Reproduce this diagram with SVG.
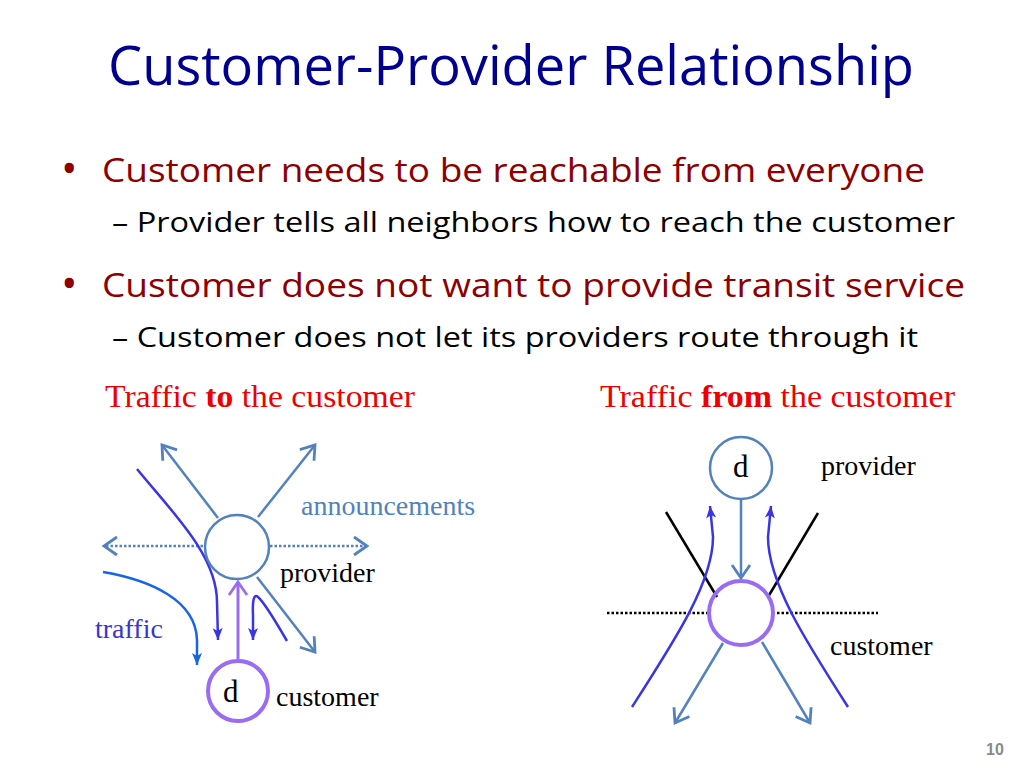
<svg xmlns="http://www.w3.org/2000/svg" width="1024" height="768" viewBox="0 0 1024 768">
<style>
.title{font-family:"Open Sans","Liberation Sans",sans-serif;font-size:54px;fill:#000090}
.b1{font-family:"Open Sans","Liberation Sans",sans-serif;font-size:33px;fill:#8e0000}
.bul{font-family:"Open Sans","Liberation Sans",sans-serif;font-size:44px;fill:#8e0000}
.b2{font-family:"Open Sans","Liberation Sans",sans-serif;font-size:27px;fill:#000}
.hdr{font-family:"Liberation Serif","Times New Roman",serif;font-size:32px;fill:#ee0000}
.lbl{font-family:"Liberation Serif","Times New Roman",serif;font-size:28px;fill:#000}
.dl{font-family:"Liberation Serif","Times New Roman",serif;font-size:31px;fill:#000}
.sb{fill:none;stroke:#5282bc;stroke-width:2.5}
.pu{fill:none;stroke:#9a6cf2}
.tr{fill:none;stroke:#3a34e4;stroke-width:2.5}
.tr2{fill:none;stroke:#1565e6;stroke-width:2.5}
.blk{fill:none;stroke:#000;stroke-width:2.5}
</style>
<defs>
<marker id="mSb" markerUnits="userSpaceOnUse" markerWidth="24" markerHeight="24" viewBox="0 0 24 24" refX="21" refY="12" orient="auto">
<path d="M8,3 L21,12 L8,21" fill="none" stroke="#5282bc" stroke-width="2.8" stroke-linejoin="miter"/>
</marker>
<marker id="mPu" markerUnits="userSpaceOnUse" markerWidth="24" markerHeight="24" viewBox="0 0 24 24" refX="21" refY="12" orient="auto">
<path d="M8,3 L21,12 L8,21" fill="none" stroke="#9a6cf2" stroke-width="2.8"/>
</marker>
<marker id="mTr" markerUnits="userSpaceOnUse" markerWidth="16" markerHeight="16" viewBox="0 0 16 16" refX="14" refY="8" orient="auto">
<path d="M2,3 L14,8 L2,13 L5,8 z" fill="#3a34e4"/>
</marker>
<marker id="mTr2" markerUnits="userSpaceOnUse" markerWidth="16" markerHeight="16" viewBox="0 0 16 16" refX="14" refY="8" orient="auto">
<path d="M2,3 L14,8 L2,13 L5,8 z" fill="#1565e6"/>
</marker>
</defs>
<rect width="1024" height="768" fill="#fff"/>

<g id="title">
<text class="title" x="108" y="85" textLength="806" lengthAdjust="spacingAndGlyphs">Customer-Provider Relationship</text>
</g>
<g id="bullets">
<text class="bul" x="61" y="184">•</text>
<text class="b1" x="102" y="182" textLength="823" lengthAdjust="spacingAndGlyphs">Customer needs to be reachable from everyone</text>
<text class="b2" x="112" y="232" textLength="843" lengthAdjust="spacingAndGlyphs">– Provider tells all neighbors how to reach the customer</text>
<text class="bul" x="61" y="299">•</text>
<text class="b1" x="102" y="297" textLength="863" lengthAdjust="spacingAndGlyphs">Customer does not want to provide transit service</text>
<text class="b2" x="112" y="347" textLength="806" lengthAdjust="spacingAndGlyphs">– Customer does not let its providers route through it</text>
</g>
<g id="headers">
<text class="hdr" x="105" y="407" textLength="310" lengthAdjust="spacingAndGlyphs">Traffic <tspan font-weight="bold">to</tspan> the customer</text>
<text class="hdr" x="600" y="407" textLength="355" lengthAdjust="spacingAndGlyphs">Traffic <tspan font-weight="bold">from</tspan> the customer</text>
</g>

<g id="connectors">
<path class="sb" d="M218,518 L162,445" marker-end="url(#mSb)"/>
<path class="sb" d="M258,517 L315,445" marker-end="url(#mSb)"/>
<path class="sb" d="M257,577 L315,652" marker-end="url(#mSb)"/>
<path class="sb" d="M203,546 L104,546" stroke-dasharray="2.5,2" marker-end="url(#mSb)"/>
<path class="sb" d="M270,546 L367,546" stroke-dasharray="2.5,2" marker-end="url(#mSb)"/>
<path class="pu" stroke-width="3" d="M238,659 L238,582" marker-end="url(#mPu)"/>
<path class="tr" d="M137,469 C172,512 217,555 217,602 L218,640" marker-end="url(#mTr)"/>
<path class="tr2" d="M103,572 C150,580 196,600 197,640 L197,665" marker-end="url(#mTr2)"/>
<path class="tr" d="M287,641 Q265,603 258,597 Q252,592 253,615 L253,640" marker-end="url(#mTr)"/>
<path class="sb" d="M741,500 L741,578" marker-end="url(#mSb)"/>
<path class="blk" d="M666,512 L717,597"/>
<path class="blk" d="M818,513 L768,597"/>
<path class="blk" d="M607,613 L707,613" stroke-dasharray="2.5,2"/>
<path class="blk" d="M777,613 L878,613" stroke-dasharray="2.5,2"/>
<path class="tr" d="M632,707 C675,640 713,582 713,537 L710,506" marker-end="url(#mTr)"/>
<path class="tr" d="M848,707 C805,640 768,582 768,537 L771,506" marker-end="url(#mTr)"/>
<path class="sb" d="M723,643 L675,723" marker-end="url(#mSb)"/>
<path class="sb" d="M762,642 L810,723" marker-end="url(#mSb)"/>
</g>

<g id="provider-left">
<circle cx="237" cy="547" r="32" fill="none" stroke="#5282bc" stroke-width="2.5"/>
<text class="lbl" x="280" y="582">provider</text>
</g>
<g id="customer-left">
<circle cx="238" cy="691" r="30" fill="none" stroke="#9a6cf2" stroke-width="4"/>
<text class="dl" x="223" y="702">d</text>
<text class="lbl" x="276" y="706">customer</text>
</g>
<g id="labels-left">
<text class="lbl" x="301" y="515" style="fill:#5282bc">announcements</text>
<text class="lbl" x="95" y="638" style="fill:#3a34d0">traffic</text>
</g>
<g id="provider-right">
<circle cx="741" cy="468" r="31" fill="#fff" stroke="#5282bc" stroke-width="2.5"/>
<text class="dl" x="733" y="477">d</text>
<text class="lbl" x="821" y="475">provider</text>
</g>
<g id="customer-right">
<circle cx="741" cy="613" r="32" fill="none" stroke="#9a6cf2" stroke-width="4"/>
<text class="lbl" x="830" y="655">customer</text>
</g>
<g id="page">
<text x="986" y="755" font-family="Liberation Sans, Arial, sans-serif" font-size="16" font-weight="bold" fill="#8a8a8a">10</text>
</g>
</svg>
